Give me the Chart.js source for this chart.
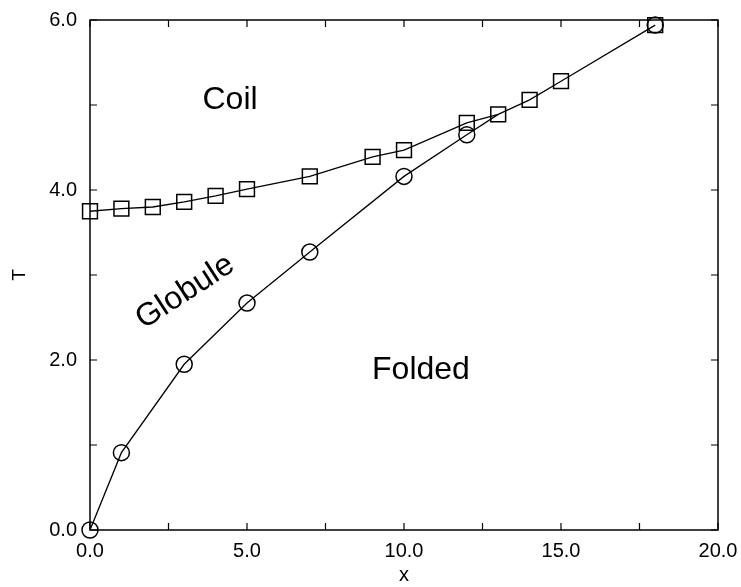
<!DOCTYPE html>
<html>
<head>
<meta charset="utf-8">
<script src="https://cdn.jsdelivr.net/npm/chart.js@4.4.1/dist/chart.umd.min.js"></script>
<style>
  html, body { margin: 0; padding: 0; background: #fff; }
  #wrap { width: 741px; height: 587px; }
</style>
</head>
<body>
<div id="wrap"><canvas id="phase-chart"></canvas></div>
<script>
// coil / globule boundary (squares)
const coilX = [0, 1, 2, 3, 4, 5, 7, 9, 10, 12, 13, 14, 15, 18];
const coilT = [3.75, 3.78, 3.80, 3.86, 3.93, 4.01, 4.16, 4.39, 4.47, 4.79, 4.89, 5.06, 5.28, 5.94];
// globule / folded boundary (circles), joins the coil line at x = 13
const foldX = [0, 1, 3, 5, 7, 10, 12, 13, 18];
const foldT = [0.0, 0.91, 1.95, 2.67, 3.27, 4.16, 4.65, 4.89, 5.94];
const foldRadius = [8, 8, 8, 8, 8, 8, 8, 0, 8];

const xTicks = [0, 5, 10, 15, 20];
const yTicks = [0, 2, 4, 6];
const regionLabels = [
  { text: "Coil", x: 4.46, y: 5.06, angle: 0 },
  { text: "Globule", x: 3.03, y: 2.80, angle: -33 },
  { text: "Folded", x: 10.54, y: 1.88, angle: 0 }
];

const FONT = "'Liberation Sans', Arial, Helvetica, sans-serif";

function toPoints(xs, ys) {
  return xs.map(function (v, i) { return { x: v, y: ys[i] }; });
}

// frame, inward ticks and region names
const framePlugin = {
  id: 'frame',
  beforeDatasetsDraw: function (chart) {
    const ctx = chart.ctx;
    const a = chart.chartArea;
    const xs = chart.scales.x, ys = chart.scales.y;
    const len = 7;
    ctx.save();
    ctx.strokeStyle = '#000';
    ctx.lineWidth = 1.5;
    ctx.strokeRect(a.left, a.top, a.right - a.left, a.bottom - a.top);
    ctx.lineWidth = 1.2;
    ctx.beginPath();
    for (let v = 0; v <= 20; v += 2.5) {
      const px = xs.getPixelForValue(v);
      ctx.moveTo(px, a.bottom); ctx.lineTo(px, a.bottom - len);
      ctx.moveTo(px, a.top); ctx.lineTo(px, a.top + len);
    }
    for (let v = 0; v <= 6; v += 1) {
      const py = ys.getPixelForValue(v);
      ctx.moveTo(a.left, py); ctx.lineTo(a.left + len, py);
      ctx.moveTo(a.right, py); ctx.lineTo(a.right - len, py);
    }
    ctx.stroke();

    ctx.fillStyle = '#000';
    ctx.font = '32px ' + FONT;
    ctx.textAlign = 'center';
    ctx.textBaseline = 'middle';
    regionLabels.forEach(function (l) {
      ctx.save();
      ctx.translate(xs.getPixelForValue(l.x), ys.getPixelForValue(l.y));
      ctx.rotate(l.angle * Math.PI / 180);
      ctx.fillText(l.text, 0, 0);
      ctx.restore();
    });
    ctx.restore();
  }
};

new Chart(document.getElementById('phase-chart'), {
  type: 'scatter',
  data: {
    datasets: [
      {
        label: 'coil-globule',
        data: toPoints(coilX, coilT),
        showLine: true,
        clip: false,
        borderColor: '#000',
        borderWidth: 1.3,
        pointStyle: 'rect',
        pointRadius: 10.5,
        pointBorderWidth: 1.5,
        pointBorderColor: '#000',
        pointBackgroundColor: 'rgba(255,255,255,0)'
      },
      {
        label: 'globule-folded',
        data: toPoints(foldX, foldT),
        showLine: true,
        clip: false,
        borderColor: '#000',
        borderWidth: 1.3,
        segment: {
          borderColor: function (c) { return c.p0DataIndex >= 7 ? 'rgba(0,0,0,0)' : '#000'; }
        },
        pointStyle: 'circle',
        pointRadius: foldRadius,
        pointBorderWidth: 1.5,
        pointBorderColor: '#000',
        pointBackgroundColor: 'rgba(255,255,255,0)'
      }
    ]
  },
  options: {
    responsive: true,
    maintainAspectRatio: false,
    animation: false,
    layout: { padding: { left: 0, top: 20, right: 23, bottom: 0 } },
    scales: {
      x: {
        type: 'linear',
        min: 0,
        max: 20,
        border: { display: false },
        grid: { display: false },
        afterBuildTicks: function (scale) {
          scale.ticks = xTicks.map(function (v) { return { value: v }; });
        },
        ticks: {
          color: '#000',
          padding: 1,
          maxRotation: 0,
          font: { family: FONT, size: 20 },
          callback: function (value) { return Number(value).toFixed(1); }
        },
        title: {
          display: true,
          text: 'x',
          color: '#000',
          padding: { top: 0, bottom: 0 },
          font: { family: FONT, size: 20 }
        },
        afterFit: function (scale) { scale.height = 57; }
      },
      y: {
        type: 'linear',
        min: 0,
        max: 6,
        border: { display: false },
        grid: { display: false },
        afterBuildTicks: function (scale) {
          scale.ticks = yTicks.map(function (v) { return { value: v }; });
        },
        ticks: {
          color: '#000',
          padding: 5,
          font: { family: FONT, size: 20 },
          callback: function (value) { return Number(value).toFixed(1); }
        },
        title: {
          display: true,
          text: 'T',
          color: '#000',
          padding: { top: 8, bottom: 0 },
          font: { family: FONT, size: 19 }
        },
        afterFit: function (scale) { scale.width = 90; }
      }
    },
    plugins: {
      legend: { display: false },
      tooltip: { enabled: false }
    }
  },
  plugins: [framePlugin]
});
</script>
</body>
</html>
